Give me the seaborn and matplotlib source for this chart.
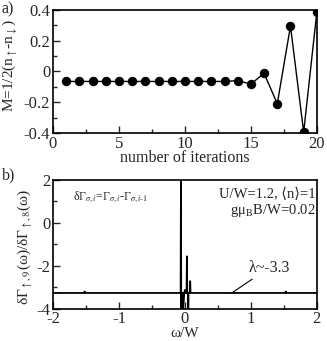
import matplotlib
matplotlib.use("Agg")
import matplotlib.pyplot as plt
import seaborn as sns
import numpy as np
from matplotlib.ticker import MultipleLocator, FixedLocator

sns.set_style("ticks")
plt.rcParams['font.family'] = ['Liberation Serif', 'DejaVu Serif']
plt.rcParams['mathtext.fontset'] = 'stix'
plt.rcParams['axes.unicode_minus'] = False

# panel a data
iterations = [1, 2, 3, 4, 5, 6, 7, 8, 9, 10, 11, 12, 13, 14, 15, 16, 17, 18, 19, 20]
magnetization = [-0.065, -0.065, -0.065, -0.065, -0.065, -0.065, -0.065, -0.065, -0.065, -0.065,
                 -0.065, -0.065, -0.065, -0.06, -0.082, -0.012, -0.21, 0.295, -0.395, 0.387]

# panel b data
omega = [-2.0, -1.53, -1.52, -1.51, -0.065, -0.06, -0.056, -0.05, -0.03, -0.028, -0.01, 0.0,
         0.005, 0.025, 0.03, 0.035, 0.048, 0.05, 0.055, 0.075, 0.08, 0.085, 1.52, 1.53, 1.54, 2.0]
ratio = [-3.27, -3.27, -3.2, -3.27, -3.27, 2.1, -4.1, -3.27, -3.27, -4.1, -3.27, -3.13,
         -3.27, -3.27, -1.56, -3.27, -3.27, -4.1, -3.27, -3.27, -2.72, -3.27, -3.27, -3.2, -3.27, -3.27]

TS = 12     # tick labels
LS = 11.5   # axis labels
fig = plt.figure(figsize=(3.27, 3.41), dpi=100)
ax1 = fig.add_axes([0.162, 0.610, 0.807, 0.361])
ax2 = fig.add_axes([0.162, 0.095, 0.807, 0.377])

sns.lineplot(x=iterations, y=magnetization, ax=ax1, color='black', lw=1.0,
             marker='o', markersize=6, markeredgecolor='black', estimator=None)
ax1.set_xlim(0, 20)
ax1.set_ylim(-0.4, 0.4)
ax1.xaxis.set_major_locator(MultipleLocator(5))
ax1.xaxis.set_minor_locator(MultipleLocator(2.5))
ax1.yaxis.set_major_locator(FixedLocator([-0.4, -0.2, 0, 0.2, 0.4]))
ax1.yaxis.set_minor_locator(MultipleLocator(0.1))
ax1.set_yticklabels(['-0.4', '-0.2', '0', '0.2', '0.4'])
ax1.set_xlabel('number of iterations', fontsize=LS, labelpad=-1)
ax1.set_ylabel(r'M=1/2(n$_{\uparrow}$-n$_{\downarrow}$)', fontsize=11)
ax1.yaxis.set_label_coords(-0.125, 0.545)

sns.lineplot(x=omega, y=ratio, ax=ax2, color='black', lw=1.3, estimator=None, sort=False)
ax2.set_xlim(-2, 2)
ax2.set_ylim(-4, 2)
ax2.xaxis.set_major_locator(MultipleLocator(1))
ax2.xaxis.set_minor_locator(MultipleLocator(0.5))
ax2.yaxis.set_major_locator(MultipleLocator(2))
ax2.yaxis.set_minor_locator(MultipleLocator(1))
ax2.set_xlabel('ω/W', fontsize=11, labelpad=0)
ax2.set_ylabel(r'δΓ$_{\uparrow,9}$(ω)/δΓ$_{\uparrow,8}$(ω)', fontsize=11)
ax2.yaxis.set_label_coords(-0.068, 0.48)

for ax in (ax1, ax2):
    ax.tick_params(which='both', direction='in', labelsize=TS, pad=2,
                   top=False, right=False)
    ax.tick_params(which='major', length=5, width=1)
    ax.tick_params(which='minor', length=3, width=1)
    for s in ax.spines.values():
        s.set_linewidth(1.2)
        s.set_color('black')
        s.set_visible(True)

ax2.text(0.075, 0.93, r'δΓ$_{\sigma,i}$=Γ$_{\sigma,i}$-Γ$_{\sigma,i\text{-}1}$', transform=ax2.transAxes,
         fontsize=8.5, va='top', ha='left')
ax2.text(0.995, 0.89, 'U/W=1.2, ⟨n⟩=1', transform=ax2.transAxes, fontsize=10.5,
         va='center', ha='right')
ax2.text(0.995, 0.76, r'gμ$_{\mathrm{B}}$B/W=0.02', transform=ax2.transAxes, fontsize=10.5,
         va='center', ha='right')
ax2.annotate('λ~-3.3', xy=(0.71, -3.27), xytext=(0.96, -2.1), fontsize=11.5,
             va='center', ha='left',
             arrowprops=dict(arrowstyle='-', color='black', lw=0.8, shrinkA=0, shrinkB=0))

fig.text(0.005, 0.995, 'a)', fontsize=LS, va='top', ha='left')
fig.text(0.005, 0.51, 'b)', fontsize=LS, va='top', ha='left')

fig.savefig('out.png', dpi=100)
